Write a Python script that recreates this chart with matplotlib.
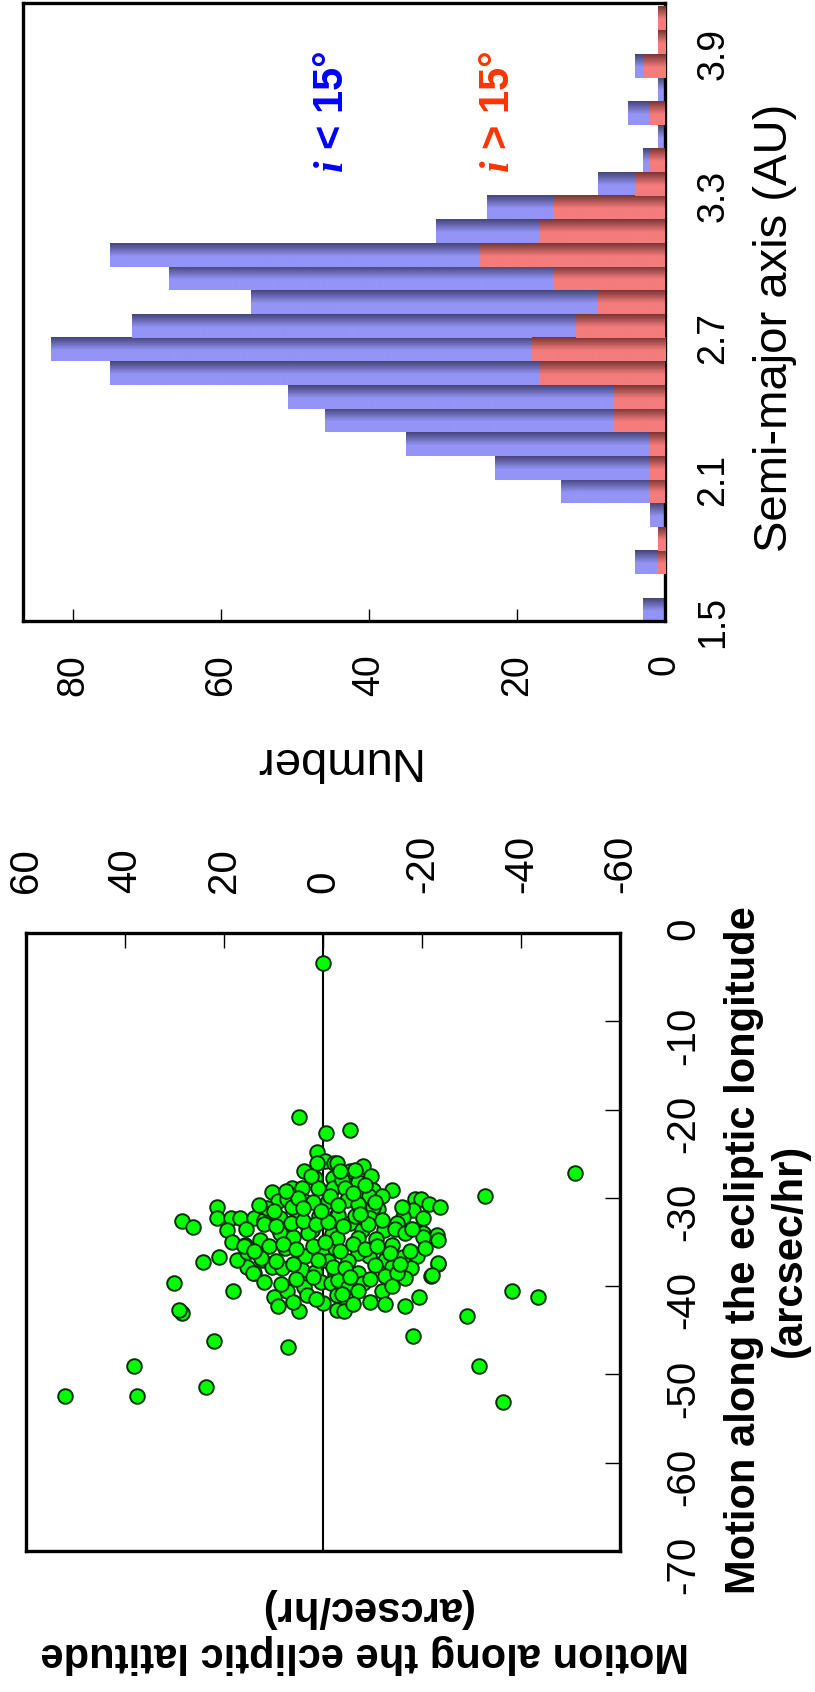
import numpy as np
import matplotlib
matplotlib.use('Agg')
import matplotlib.pyplot as plt

plt.rcParams['font.family'] = ['Liberation Sans', 'DejaVu Sans']
plt.rcParams['axes.unicode_minus'] = False
plt.rcParams['mathtext.fontset'] = 'custom'
plt.rcParams['mathtext.it'] = 'Liberation Serif:italic:bold'
plt.rcParams['mathtext.rm'] = 'Liberation Sans:bold'

# histogram of semi-major axis (bin centres, 0.1 AU wide)
a_bins = [1.5, 1.6, 1.7, 1.8, 1.9, 2.0, 2.1, 2.2, 2.3, 2.4, 2.5, 2.6, 2.7,
          2.8, 2.9, 3.0, 3.1, 3.2, 3.3, 3.4, 3.5, 3.6, 3.7, 3.8, 3.9, 4.0]
n_low = [3, 0, 4, 0, 2, 14, 23, 35, 46, 51, 75, 83, 72,
         56, 67, 75, 31, 24, 9, 3, 1, 5, 1, 4, 0, 0]      # i < 15 deg
n_high = [0, 0, 1, 1, 0, 2, 2, 2, 7, 7, 17, 18, 12,
          9, 15, 25, 17, 15, 4, 2, 0, 2, 0, 3, 1, 1]      # i > 15 deg
a_ticks = [1.5, 2.1, 2.7, 3.3, 3.9]
num_ticks = [0, 20, 40, 60, 80]

# sky motion of detected objects (arcsec/hr)
lat = [0.0, 4.9, -0.6, -5.5, -50.9,
       -32.7, -38.2, -43.4, -29.1, -18.2, -31.5, -36.4, 7.0, 22.1, 23.6,
       38.2, 37.6, 52.1, 28.5, 29.1, 30.1, 24.2, 28.5, 26.2, 21.4, 21.4,
       21.0, 15.4, 14.0, -23.2, -21.8, -3.8,
       1.15, -0.4, -2.2, 1.15, 3.8, 1.6, -2.1, 6.3, 4.3, 1.1, -2.1, 10.4,
       9.0, 3.8, -1.1, 7.3, 18.6, 16.8, 13.9, 11.9, 8.7, 5.3, 0.9, -2.8,
       3.3, 8.7, 6.3, 11.4, 2.3, 19.3,
       -2.8, -8.1, -5.5, -9.7, -7.0, -3.8, -4.4, -10.2, -13.9, -9.2, -4.8,
       -7.1, -18.6, -19.8, -21.5, -23.6, -18.2, -11.2, -10.2, -20.3, -16.2,
       -14.9, -9.5, -5.5, -3.1, -12.4, -20.3, -23.0, -7.8,
       18.3, 15.8, 12.7, 8.7, 6.0, 3.0, -1.8, 17.4, 15.4, 12.4, 7.7, 3.6,
       0.3, -2.4, 14.1, 10.4, 8.3, 4.3, 1.6, -1.1, -2.4, 3.8, 0.5, -1.6,
       18.1, 10.0, 7.3, 3.3, -0.1, 4.8, -2.8, -2.8,
       -2.8, -7.0, -10.8, -14.0, -20.3, -23.2, -9.2, -7.0, -5.1, -12.5,
       -16.2, -18.9, -20.6, -14.0, -17.8, -23.2, -22.0, -16.6, -7.0, -3.1,
       -8.1, -5.1, -7.0, -3.8, -11.9, -19.3, -16.6, -4.3,
       12.0, 9.5, 6.5, 4.0, 1.5, -1.0, -4.0, -6.5, -9.0, -12.0, -14.5,
       11.0, 8.0, 5.5, 2.0, -0.5, -3.5, -6.0, -8.5, -11.0, -13.5, -16.5,
       12.5, 9.5, 6.0, 1.0, -2.0, -4.5, -10.5, -12.5, -15.0,
       12.0, 8.5, 5.5, 2.0, -5.5, -9.5, -14.0,
       6.0, 1.5, -6.0, -9.5, -12.5, 9.0,
       5.0, 2.0, -1.5, -6.0, -8.5, -12.0, -16.0, 10.0, 13.0, 7.5, 2.5, -3.5,
       -6.5, 0.5, -3.0, -7.5, -10.5, 4.0, 15.5, 16.0, 14.0, -17.5, -18.0,
       -15.5]
lon = [-3.4, -20.8, -22.7, -22.3, -27.2,
       -29.8, -40.6, -41.2, -43.4, -45.6, -49.0, -53.1, -46.9, -46.2, -51.4,
       -49.0, -52.4, -52.4, -43.0, -42.7, -39.6, -37.3, -32.6, -33.3, -31.0,
       -32.3, -36.7, -37.8, -38.5, -37.5, -38.8, -41.3,
       -24.8, -25.8, -26.1, -26.1, -27.0, -27.8, -27.8, -28.9, -28.9, -28.9,
       -28.9, -29.3, -30.4, -30.4, -30.4, -30.1, -32.3, -32.3, -32.3, -32.5,
       -32.3, -31.6, -32.1, -31.9, -33.1, -33.7, -31.0, -31.2, -33.6, -33.6,
       -26.1, -26.4, -27.0, -27.5, -28.2, -28.0, -28.9, -29.1, -29.1, -29.8,
       -30.2, -30.7, -30.1, -30.1, -30.7, -31.0, -31.4, -31.3, -31.0, -32.3,
       -32.2, -32.8, -32.3, -32.9, -31.9, -33.6, -34.0, -34.2, -33.6,
       -35.0, -35.3, -34.8, -34.0, -34.4, -34.0, -34.1, -37.0, -36.1, -37.0,
       -35.7, -36.6, -36.3, -35.7, -38.5, -37.8, -38.0, -38.2, -38.4, -37.2,
       -38.6, -40.1, -39.5, -39.7, -40.6, -41.2, -40.6, -41.0, -41.9, -42.8,
       -41.0, -42.7,
       -34.6, -34.5, -34.7, -35.3, -34.4, -34.8, -36.6, -36.3, -37.2, -37.0,
       -36.7, -36.6, -35.7, -37.8, -37.9, -37.4, -38.7, -39.1, -38.5, -39.3,
       -39.7, -40.1, -40.6, -40.9, -40.6, -41.2, -42.3, -42.8,
       -33.0, -33.2, -32.8, -32.6, -33.0, -32.7, -33.2, -32.0, -33.0, -32.5,
       -33.5,
       -35.5, -35.2, -35.8, -35.5, -35.0, -36.0, -35.2, -35.8, -35.5, -36.2,
       -34.0,
       -36.8, -37.2, -37.5, -37.0, -37.8, -38.0, -37.6, -38.8, -38.5,
       -39.5, -39.8, -39.2, -39.0, -39.0, -39.2, -40.0,
       -41.8, -41.5, -42.0, -41.8, -42.0, -42.2,
       -30.0, -30.5, -29.8, -29.5, -28.5, -29.8, -31.0, -31.5, -30.8, -29.2,
       -27.5, -27.0, -26.8, -31.5, -30.8, -31.8, -30.5, -31.2, -33.5, -35.5,
       -36.0, -36.0, -33.5, -37.5]
lat_ticks = [60, 40, 20, 0, -20, -40, -60]
lon_ticks = [0, -10, -20, -30, -40, -50, -60, -70]

W, H = 815, 1692
fig = plt.figure(figsize=(W / 100, H / 100), dpi=100)


def grad(dark, light, n=60, frac=0.55):
    t = np.linspace(0, 1, n)
    w = np.clip(t / frac, 0, 1)
    dark = np.array(matplotlib.colors.to_rgb(dark))
    light = np.array(matplotlib.colors.to_rgb(light))
    cols = dark[None, :] * (1 - w[:, None]) + light[None, :] * w[:, None]
    return cols[:, None, :]


# ---- histogram panel (rotated) ----
ax1 = fig.add_axes([23 / W, 1 - 621 / H, 642 / W, 618 / H])
blue_img = grad('#44447a', '#9494f6')
red_img = grad('#7a3434', '#f47c7c')
for a, nb, nr in zip(a_bins, n_low, n_high):
    if nb > 0:
        ax1.imshow(blue_img, extent=(0, nb, a - 0.05, a + 0.05), aspect='auto',
                   interpolation='bilinear', zorder=2)
    if nr > 0:
        ax1.imshow(red_img, extent=(0, nr, a - 0.05, a + 0.05), aspect='auto',
                   interpolation='bilinear', zorder=3)
ax1.set_xlim(86.8, 0)
ax1.set_ylim(1.453, 4.065)
ax1.set_xticks(num_ticks)
ax1.tick_params(axis='x', direction='in', length=9, width=1, labelsize=27,
                labelrotation=90, pad=24, top=False)
ax1.yaxis.tick_right()
ax1.set_yticks(a_ticks)
ax1.set_yticklabels([f'{v:.1f}' for v in a_ticks])
ax1.tick_params(axis='y', length=0, labelsize=27, labelrotation=90, pad=22)
for s in ax1.spines.values():
    s.set_linewidth(2.4)

fig.text(775 / W, 1 - 328 / H, 'Semi-major axis (AU)', rotation=90,
         fontsize=34, ha='center', va='center')
fig.text(335 / W, 1 - 760 / H, 'Number', rotation=180,
         fontsize=34, ha='center', va='center')
fig.text(332 / W, 1 - 112 / H, r'$\mathit{i}$ < 15°', rotation=90, fontsize=30,
         fontweight='bold', color='#0000ff', ha='center', va='center')
fig.text(498 / W, 1 - 112 / H, r'$\mathit{i}$ > 15°', rotation=90, fontsize=30,
         fontweight='bold', color='#ff3300', ha='center', va='center')

# ---- scatter panel (rotated) ----
ax2 = fig.add_axes([26 / W, 1 - 1551 / H, 594 / W, 618 / H])
ax2.axvline(0, color='black', lw=1.5, zorder=1)
ax2.scatter(lat, lon, s=110, c='#00ff00', edgecolors='#003000', linewidths=1.4,
            zorder=3)
ax2.set_xlim(60, -60)
ax2.set_ylim(-70, 0)
ax2.xaxis.tick_top()
ax2.set_xticks(lat_ticks)
ax2.tick_params(axis='x', direction='in', length=11, width=1, labelsize=29,
                labelrotation=90, pad=29)
ax2.yaxis.tick_right()
ax2.set_yticks(lon_ticks)
ax2.tick_params(axis='y', direction='in', length=11, width=1, labelsize=29,
                labelrotation=90, pad=32)
for s in ax2.spines.values():
    s.set_linewidth(2.4)

fig.text(767 / W, 1 - 1250 / H,
         'Motion along the ecliptic longitude\n(arcsec/hr)', rotation=90,
         fontsize=30, fontweight='bold', ha='center', va='center',
         multialignment='center')
fig.text(365 / W, 1 - 1631 / H,
         'Motion along the ecliptic latitude\n(arcsec/hr)', rotation=180,
         fontsize=30, fontweight='bold', ha='center', va='center',
         multialignment='center')

fig.savefig('out.png', dpi=100)
